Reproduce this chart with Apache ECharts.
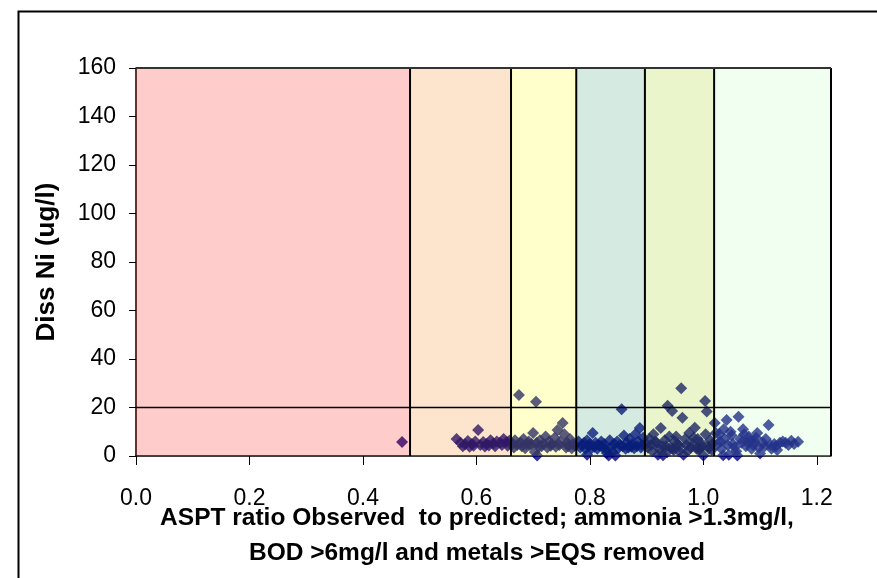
<!DOCTYPE html>
<html>
<head>
<meta charset="utf-8">
<script src="https://cdn.jsdelivr.net/npm/echarts@6/dist/echarts.min.js"></script>
<style>
html,body{margin:0;padding:0;background:#fff;}
#chart{width:877px;height:578px;}
</style>
</head>
<body>
<div id="chart"></div>
<script>
// ---- data ----
const xTickValues = [0, 0.2, 0.4, 0.6, 0.8, 1.0, 1.2];
const yTickValues = [0, 20, 40, 60, 80, 100, 120, 140, 160];
const bandEdges = [0, 0.483, 0.661, 0.776, 0.897, 1.019, 1.225];
const thresholdY = 20;
const xTitleLines = ['ASPT ratio Observed  to predicted; ammonia >1.3mg/l,', 'BOD >6mg/l and metals >EQS removed'];
const yTitle = 'Diss Ni (ug/l)';
const aspt = [
  0.469,
  0.565,0.572,0.580,0.585,0.592,0.598,0.603,0.607,0.612,0.618,0.625,0.630,0.636,0.642,0.648,0.653,0.658,
  0.576,0.588,0.595,0.615,0.622,0.633,0.645,0.655,
  0.664,0.668,0.672,0.675,0.678,0.683,0.688,0.692,0.697,0.700,0.703,0.705,0.706,0.707,0.712,0.718,0.722,0.728,0.733,0.738,0.743,0.748,0.752,0.755,0.760,0.765,0.770,
  0.666,0.680,0.686,0.694,0.710,0.715,0.725,0.731,0.740,0.746,0.758,0.762,0.768,0.773,
  0.780,0.786,0.790,0.795,0.800,0.805,0.810,0.815,0.820,0.825,0.830,0.835,0.840,0.843,0.848,0.853,0.856,0.860,0.865,0.870,0.875,0.880,0.885,0.888,0.892,0.795,0.833,0.845,
  0.783,0.792,0.798,0.803,0.808,0.813,0.818,0.823,0.828,0.838,0.850,0.858,0.863,0.868,0.873,0.878,0.883,0.890,0.894,
  0.900,0.905,0.910,0.912,0.918,0.920,0.925,0.928,0.932,0.937,0.940,0.945,0.946,0.950,0.955,0.961,0.963,0.965,0.968,0.972,0.975,0.980,0.985,0.988,0.990,0.995,1.000,1.003,1.004,1.006,1.008,1.012,1.015,0.929,
  0.902,0.908,0.915,0.922,0.934,0.942,0.948,0.952,0.958,0.970,0.978,0.983,0.993,0.998,1.010,1.016,0.936,0.957,0.992,
  1.020,1.025,1.028,1.032,1.038,1.041,1.045,1.048,1.052,1.058,1.062,1.065,1.070,1.075,1.080,1.085,1.090,1.095,1.100,1.105,1.110,1.115,1.120,1.125,1.130,1.140,1.145,1.155,1.167,1.060,1.035,
  1.022,1.030,1.036,1.043,1.050,1.055,1.067,1.072,1.078,1.083,1.088,1.093,1.098,1.108,1.118,1.128,1.135,1.150,1.160
];
const niDiss = [
  5.8,
  7.0,5.5,4.8,6.2,5.0,6.0,10.7,4.5,5.8,5.0,6.5,5.2,6.0,5.5,7.0,5.8,6.3,
  4.0,3.8,4.2,3.9,4.3,4.0,4.5,4.2,
  5.0,6.5,4.5,25.2,5.5,7.0,4.8,6.0,5.0,9.5,1.6,22.4,5.5,0.2,6.5,5.0,8.0,6.0,5.0,7.5,10.7,6.0,13.6,9.0,5.5,7.0,5.0,
  3.5,4.0,3.2,4.5,3.8,4.0,3.5,4.2,3.8,4.5,3.5,4.0,3.2,4.2,
  6.0,4.5,5.5,6.5,5.0,9.5,5.5,4.5,6.0,5.0,1.2,6.5,1.5,5.0,6.0,4.5,19.3,8.5,5.5,7.0,5.0,9.0,6.0,11.5,4.5,0.5,0.2,0.2,
  3.5,3.0,4.0,3.2,3.8,3.0,4.2,3.4,3.0,3.8,3.2,4.0,3.0,3.5,3.8,3.2,4.0,3.5,7.5,
  5.0,7.0,2.0,9.0,5.5,0.5,11.5,4.0,6.5,20.7,8.0,18.6,3.0,6.0,5.0,27.9,15.8,0.5,7.0,2.0,9.5,5.0,11.7,3.0,7.0,5.5,0.2,22.7,9.0,18.3,4.0,6.5,2.5,0.3,
  3.5,4.5,6.0,3.0,4.0,3.5,2.5,8.0,4.0,4.5,3.5,7.5,3.0,4.0,3.0,5.0,1.5,2.0,2.5,
  13.6,5.0,9.0,3.0,7.0,14.8,0.5,10.0,5.0,2.0,16.2,7.0,11.0,4.0,8.0,3.0,6.0,9.5,1.0,5.5,7.0,12.8,3.0,5.0,2.5,6.0,5.5,6.3,5.9,0.2,0.3,
  9.5,6.0,11.0,4.5,8.5,3.5,5.5,9.0,5.5,6.5,4.5,7.5,3.5,4.0,4.5,4.0,5.5,4.5,5.0
];
// ---- styles ----
const bandColors = ['rgba(255,0,0,0.2)','rgba(245,118,0,0.2)','rgba(255,255,0,0.2)','rgba(45,150,100,0.2)','rgba(150,205,0,0.2)','rgba(180,255,180,0.2)'];
const FONT = '"Liberation Sans", Arial, sans-serif';

const points = aspt.map((x, i) => [x, niDiss[i]]);
const bandData = bandEdges.slice(0, -1).map((e, i) => [e, bandEdges[i + 1], i]);
const xMax = bandEdges[bandEdges.length - 1];

const chart = echarts.init(document.getElementById('chart'), null, {renderer: 'canvas'});
chart.setOption({
  animation: false,
  backgroundColor: '#fff',
  grid: {left: 136, right: 46, top: 68, bottom: 122},
  xAxis: {
    type: 'value', min: 0, max: xMax, interval: 0.2,
    axisLine: {lineStyle: {color: '#000', width: 1.5}},
    axisTick: {show: true, length: 9, customValues: xTickValues, lineStyle: {color: '#000', width: 1}},
    axisLabel: {customValues: xTickValues, margin: 31, fontFamily: FONT, fontSize: 23, color: '#000', formatter: v => v.toFixed(1)},
    splitLine: {show: false}
  },
  yAxis: {
    type: 'value', min: 0, max: 160, interval: 20,
    axisLine: {show: true, lineStyle: {color: '#000', width: 1.5}},
    axisTick: {show: true, length: 7, lineStyle: {color: '#000', width: 1}},
    axisLabel: {margin: 20, fontFamily: FONT, fontSize: 23, color: '#000'},
    splitLine: {show: false}
  },
  series: [
    {
      type: 'scatter', data: points, symbol: 'diamond', symbolSize: [12, 12],
      itemStyle: {color: '#000080'}, z: 2, clip: false, silent: true
    },
    {
      type: 'custom', data: bandData, z: 3, silent: true, clip: false,
      renderItem: (params, api) => {
        const p0 = api.coord([api.value(0), 160]);
        const p1 = api.coord([api.value(1), 0]);
        return {type: 'rect', shape: {x: p0[0], y: p0[1], width: p1[0] - p0[0], height: p1[1] - p0[1]},
          style: {fill: bandColors[api.value(2)]}};
      }
    },
    {
      type: 'custom', data: [[0]], z: 4, silent: true, clip: false,
      renderItem: (params, api) => {
        const children = [];
        bandEdges.slice(1).forEach(e => {
          const a = api.coord([e, 0]), b = api.coord([e, 160]);
          children.push({type: 'line', shape: {x1: a[0], y1: a[1], x2: b[0], y2: b[1]}, style: {stroke: '#000', lineWidth: 2}});
        });
        const t0 = api.coord([0, 160]), t1 = api.coord([xMax, 160]);
        children.push({type: 'line', shape: {x1: t0[0], y1: t0[1], x2: t1[0], y2: t1[1]}, style: {stroke: '#333', lineWidth: 2}});
        const h0 = api.coord([0, thresholdY]), h1 = api.coord([xMax, thresholdY]);
        children.push({type: 'line', shape: {x1: h0[0], y1: h0[1], x2: h1[0], y2: h1[1]}, style: {stroke: '#000', lineWidth: 1.5}});
        return {type: 'group', children};
      }
    }
  ],
  graphic: [
    {type: 'rect', left: 16, top: 9, shape: {x: 0, y: 0, width: 900, height: 600}, style: {fill: 'none', stroke: '#000', lineWidth: 2}, silent: true, z: 10},
    {type: 'text', x: 477, y: 518, style: {text: xTitleLines[0], font: 'bold 24.5px ' + FONT, fill: '#000', align: 'center', verticalAlign: 'middle'}},
    {type: 'text', x: 477, y: 553, style: {text: xTitleLines[1], font: 'bold 24.5px ' + FONT, fill: '#000', align: 'center', verticalAlign: 'middle'}},
    {type: 'text', x: 47, y: 262, rotation: Math.PI / 2, style: {text: yTitle, font: 'bold 26px ' + FONT, fill: '#000', align: 'center', verticalAlign: 'middle'}}
  ]
});
</script>
</body>
</html>
